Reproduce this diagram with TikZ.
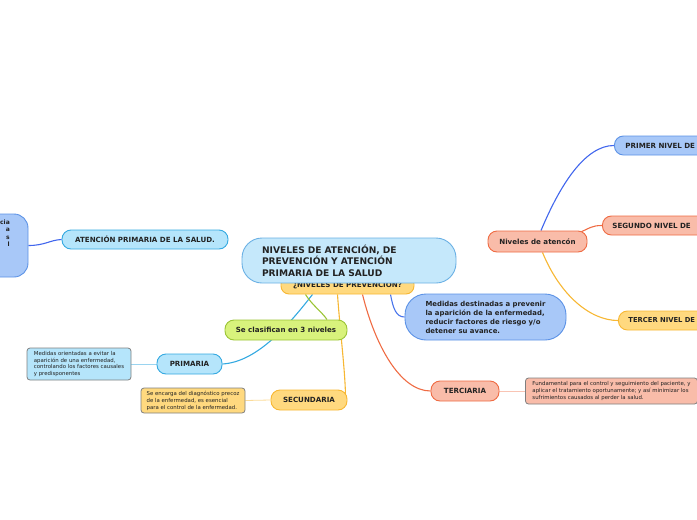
\documentclass[tikz,border=0pt]{standalone}
\usepackage{fontspec}
\setmainfont{DejaVu Sans}
\usetikzlibrary{backgrounds,calc,positioning}
\definecolor{skyfill}{HTML}{C5E8FB}
\definecolor{skyline}{HTML}{6AB0E4}
\definecolor{yelfill}{HTML}{FFD97F}
\definecolor{yelline}{HTML}{F7B733}
\definecolor{blufill}{HTML}{A8C8F8}
\definecolor{bluline}{HTML}{5C92E6}
\definecolor{grefill}{HTML}{D8F27C}
\definecolor{greline}{HTML}{9BC436}
\definecolor{cyafill}{HTML}{B5E5FB}
\definecolor{cyaline}{HTML}{34A9E1}
\definecolor{salfill}{HTML}{F9BCA9}
\definecolor{salline}{HTML}{EF6B43}
\definecolor{notegray}{HTML}{7F7F7F}
\definecolor{inktext}{HTML}{222222}
\tikzset{
    topic/.style={draw, line width=0.9pt, rounded corners=9pt, inner sep=0pt,
        text=inktext, font=\bfseries\fontsize{7.1}{8.5}\selectfont},
    yeltopic/.style={topic, fill=yelfill, draw=yelline},
    blutopic/.style={topic, fill=blufill, draw=bluline},
    gretopic/.style={topic, fill=grefill, draw=greline},
    cyatopic/.style={topic, fill=cyafill, draw=cyaline},
    saltopic/.style={topic, fill=salfill, draw=salline},
    note/.style={draw=notegray, line width=0.8pt, rounded corners=3pt, inner sep=0pt,
        text=inktext, align=left, font=\fontsize{5.4}{6.9}\selectfont},
    link/.style={line width=1.1pt},
    notelink/.style={line width=0.8pt}
}
\begin{document}
\begin{tikzpicture}[x=1pt,y=-1pt]
    \clip (0,0) rectangle (697,520);
    % centre
    \node[yeltopic, minimum width=133pt, minimum height=18pt, rounded corners=8pt] (prev) at (347.5,285)
        {¿NIVELES DE PREVENCIÓN?};
    \node[topic, fill=skyfill, draw=skyline, minimum width=214pt, minimum height=45pt,
        rounded corners=20pt, align=left, text width=190pt, inner xsep=0pt,
        font=\bfseries\fontsize{9.1}{11.5}\selectfont] (main) at (349,260.5)
        {\hspace*{8pt}NIVELES DE ATENCIÓN, DE\\\hspace*{8pt}PREVENCIÓN Y ATENCIÓN\\\hspace*{8pt}PRIMARIA DE LA SALUD};
    % prevencion
    \node[blutopic, minimum width=161pt, minimum height=46pt, rounded corners=21pt, align=left,
        font=\bfseries\fontsize{6.9}{9}\selectfont] (medidas) at (485.5,317)
        {Medidas destinadas a prevenir\\la aparición de la enfermedad,\\reducir factores de riesgo y/o\\detener su avance.};
    \node[gretopic, minimum width=122pt, minimum height=20pt] (clasif) at (286,330) {Se clasifican en 3 niveles};
    \node[cyatopic, minimum width=65pt, minimum height=20pt] (primaria) at (189.5,364) {PRIMARIA};
    \node[yeltopic, minimum width=76pt, minimum height=20pt] (secundaria) at (309,400) {SECUNDARIA};
    \node[saltopic, minimum width=68pt, minimum height=20pt] (terciaria) at (465,391) {TERCIARIA};
    \node[note, fill=cyafill, minimum width=104pt, minimum height=32pt] (notaprim) at (79,364)
        {Medidas orientadas a evitar la\\aparición de una enfermedad,\\controlando los factores causales\\y predisponentes};
    \node[note, fill=yelfill, minimum width=104pt, minimum height=25pt] (notasec) at (193,400.5)
        {Se encarga del diagnóstico precoz\\de la enfermedad, es esencial\\para el control de la enfermedad.};
    \node[note, fill=salfill, minimum width=172pt, minimum height=26pt] (notater) at (611.5,391)
        {Fundamental para el control y seguimiento del paciente, y\\aplicar el tratamiento oportunamente; y así minimizar los\\sufrimientos causados al perder la salud.};
    % atencion
    \node[saltopic, minimum width=99pt, minimum height=21pt] (atencion) at (537.5,241.5) {Niveles de atencón};
    \node[blutopic, minimum height=19pt, minimum width=100pt, inner xsep=11pt, anchor=west, align=left,
        text width=78pt] (primer) at (614,145.5) {PRIMER NIVEL DE};
    \node[saltopic, minimum height=19pt, minimum width=110pt, inner xsep=10pt, anchor=west, align=left,
        text width=90pt] (segundo) at (602,225.5) {SEGUNDO NIVEL DE};
    \node[yeltopic, minimum height=19pt, minimum width=100pt, inner xsep=10pt, anchor=west, align=left,
        text width=80pt, font=\bfseries\fontsize{6.8}{8.5}\selectfont] (tercer) at (618,320.5) {TERCER NIVEL DE};
    % aps
    \node[cyatopic, minimum width=166pt, minimum height=19pt] (aps) at (145,239.5) {ATENCIÓN PRIMARIA DE LA SALUD.};
    \node[blutopic, minimum width=90pt, minimum height=63pt, rounded corners=14pt] (apsnota) at (-17,245.5) {};
    \node[anchor=north east, align=right, inner sep=0pt, text=inktext,
        font=\bfseries\fontsize{6}{7.2}\selectfont] (apstexto) at (10,220) {cia\\a\\s\\l};
    \begin{scope}[on background layer]
        \draw[link, cyaline] ($(prev.south)+(-35,0)$) .. controls (285,330) and (255,362) .. (primaria.east);
        \draw[link, greline] ($(prev.south)+(-42,0)$) .. controls (312,305) and (322,312) .. ($(clasif.north)+(41,0)$);
        \draw[link, yelline] ($(prev.south)+(-10,0)$) .. controls (340,330) and (345,370) .. ($(secundaria.east)+(-2,-6)$);
        \draw[link, salline] ($(prev.south)+(15,0)$) .. controls (375,345) and (400,391) .. (terciaria.west);
        \draw[link, bluline!80!blue] ($(prev.south)+(43,0)$) .. controls (393,308) and (396,317) .. (medidas.west);
        \draw[link, bluline!70!blue] ($(atencion.north)+(3.5,0)$) .. controls (560,185) and (585,145.5) .. (primer.west);
        \draw[link, salline] ($(atencion.north east)+(-8,2)$) .. controls (590,228) and (592,225.5) .. (segundo.west);
        \draw[link, yelline] ($(atencion.south)+(5,0)$) .. controls (560,295) and (590,320.5) .. (tercer.west);
        \draw[link, bluline!70!blue] (aps.west) .. controls (50,240) and (45,245.5) .. (apsnota.east);
        \draw[notelink, cyaline!50] (primaria.west) -- (notaprim.east);
        \draw[notelink, yelline!50] (secundaria.west) -- (notasec.east);
        \draw[notelink, salline!40] (terciaria.east) -- (notater.west);
    \end{scope}
\end{tikzpicture}
\end{document}
